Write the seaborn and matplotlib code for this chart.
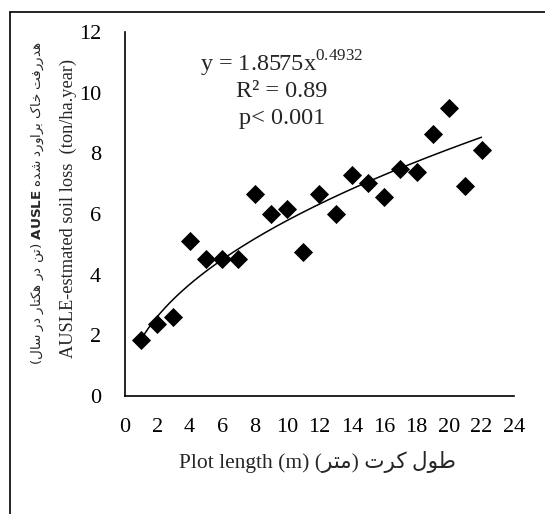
import numpy as np
import pandas as pd
import seaborn as sns
import matplotlib.pyplot as plt
from matplotlib.lines import Line2D

# plot length (m) and AUSLE estimated soil loss (ton/ha.year)
plot_length = [1, 2, 3, 4, 5, 6, 7, 8, 9, 10, 11, 12, 13, 14, 15, 16, 17, 18, 19, 20, 21, 22]
soil_loss = [1.84, 2.38, 2.6, 5.1, 4.5, 4.5, 4.5, 6.65, 6.0, 6.17, 4.76, 6.65,
             6.0, 7.27, 7.03, 6.55, 7.5, 7.4, 8.65, 9.5, 6.92, 8.1]

# power fit reported on the chart
fit_a = 1.8575
fit_b = 0.4932
fit_text = ["y = 1.8575x$^{\\mathrm{0.4932}}$", "R² = 0.89", "p< 0.001"]

x_ticks = list(range(0, 25, 2))
y_ticks = list(range(0, 13, 2))

# Persian letters -> presentation forms (isolated, final, initial, medial)
FORMS = {
    'ا': ('\uFE8D', '\uFE8E', None, None),
    'ب': ('\uFE8F', '\uFE90', '\uFE91', '\uFE92'),
    'ت': ('\uFE95', '\uFE96', '\uFE97', '\uFE98'),
    'خ': ('\uFEA5', '\uFEA6', '\uFEA7', '\uFEA8'),
    'د': ('\uFEA9', '\uFEAA', None, None),
    'ر': ('\uFEAD', '\uFEAE', None, None),
    'س': ('\uFEB1', '\uFEB2', '\uFEB3', '\uFEB4'),
    'ش': ('\uFEB5', '\uFEB6', '\uFEB7', '\uFEB8'),
    'ط': ('\uFEC1', '\uFEC2', '\uFEC3', '\uFEC4'),
    'ف': ('\uFED1', '\uFED2', '\uFED3', '\uFED4'),
    'ل': ('\uFEDD', '\uFEDE', '\uFEDF', '\uFEE0'),
    'م': ('\uFEE1', '\uFEE2', '\uFEE3', '\uFEE4'),
    'ن': ('\uFEE5', '\uFEE6', '\uFEE7', '\uFEE8'),
    'ه': ('\uFEE9', '\uFEEA', '\uFEEB', '\uFEEC'),
    'و': ('\uFEED', '\uFEEE', None, None),
    'ک': ('\uFB8E', '\uFB8F', '\uFB90', '\uFB91'),
}


def rtl(s):
    """shape persian text and return it in visual (left to right) order"""
    out = []
    for i, ch in enumerate(s):
        if ch not in FORMS:
            out.append(ch)
            continue
        prev = s[i - 1] if i > 0 else None
        nxt = s[i + 1] if i + 1 < len(s) else None
        join_prev = prev in FORMS and FORMS[prev][2] is not None
        join_next = nxt in FORMS and FORMS[ch][2] is not None
        iso, fin, ini, med = FORMS[ch]
        if join_prev and join_next:
            out.append(med)
        elif join_prev:
            out.append(fin)
        elif join_next:
            out.append(ini)
        else:
            out.append(iso)
    mirror = {'(': ')', ')': '('}
    return ''.join(mirror.get(c, c) for c in reversed(out))


ylabel_fa = rtl('(تن در هکتار در سال)') + ' $\\mathbf{AUSLE}$ ' + rtl('هدررفت خاک براورد شده')
ylabel_en = 'AUSLE-estmated soil loss  (ton/ha.year)'
xlabel = 'Plot length (m) ' + rtl('طول کرت (متر)')

df = pd.DataFrame({'length': plot_length, 'loss': soil_loss})
xs = np.linspace(min(plot_length), max(plot_length), 200)
fit_df = pd.DataFrame({'length': xs, 'loss': fit_a * xs ** fit_b})

sns.set_style('white')
plt.rcParams['font.family'] = ['Liberation Serif', 'DejaVu Sans']
plt.rcParams['mathtext.fontset'] = 'custom'
plt.rcParams['mathtext.rm'] = 'Liberation Serif'
plt.rcParams['mathtext.bf'] = 'DejaVu Sans:bold'

fig = plt.figure(figsize=(5.45, 5.14), dpi=100)
ax = fig.add_axes([0.229, 0.2296, 0.714, 0.7081])

sns.lineplot(data=fit_df, x='length', y='loss', color='black', linewidth=1.1, ax=ax)
sns.scatterplot(data=df, x='length', y='loss', marker='D', s=95, color='black',
                edgecolor='black', linewidth=0, ax=ax, zorder=3)

ax.set_xlim(0, 24)
ax.set_ylim(0, 12)
ax.set_xticks(x_ticks)
ax.set_yticks(y_ticks)
ax.tick_params(direction='in', length=4, width=1, colors='black', labelsize=16)
ax.tick_params(axis='x', pad=16)
ax.tick_params(axis='y', pad=17)
for side in ['top', 'right']:
    ax.spines[side].set_visible(False)
for side in ['left', 'bottom']:
    ax.spines[side].set_color('black')
    ax.spines[side].set_linewidth(1.2)
ax.set_xlabel('')
ax.set_ylabel('')

fig.text(0.582, 0.101, xlabel, ha='center', va='center', fontsize=15.5,
         family=['Liberation Serif', 'DejaVu Sans'])
fig.text(0.125, 0.595, ylabel_en, ha='center', va='center', rotation=90, fontsize=13.2)
fig.text(0.068, 0.605, ylabel_fa, ha='center', va='center', rotation=90, fontsize=9.7,
         family=['DejaVu Sans'])

for i, t in enumerate(fit_text):
    ax.text(0.404, 0.912 - i * 0.075, t, transform=ax.transAxes, ha='center', va='center',
            fontsize=17.5)

# frame around the figure (only left and top visible in the crop)
fig.add_artist(Line2D([0.018, 0.018], [0.0, 0.976], color='black', linewidth=1.2))
fig.add_artist(Line2D([0.018, 1.0], [0.976, 0.976], color='black', linewidth=1.2))

plt.savefig('out.png', dpi=100)
